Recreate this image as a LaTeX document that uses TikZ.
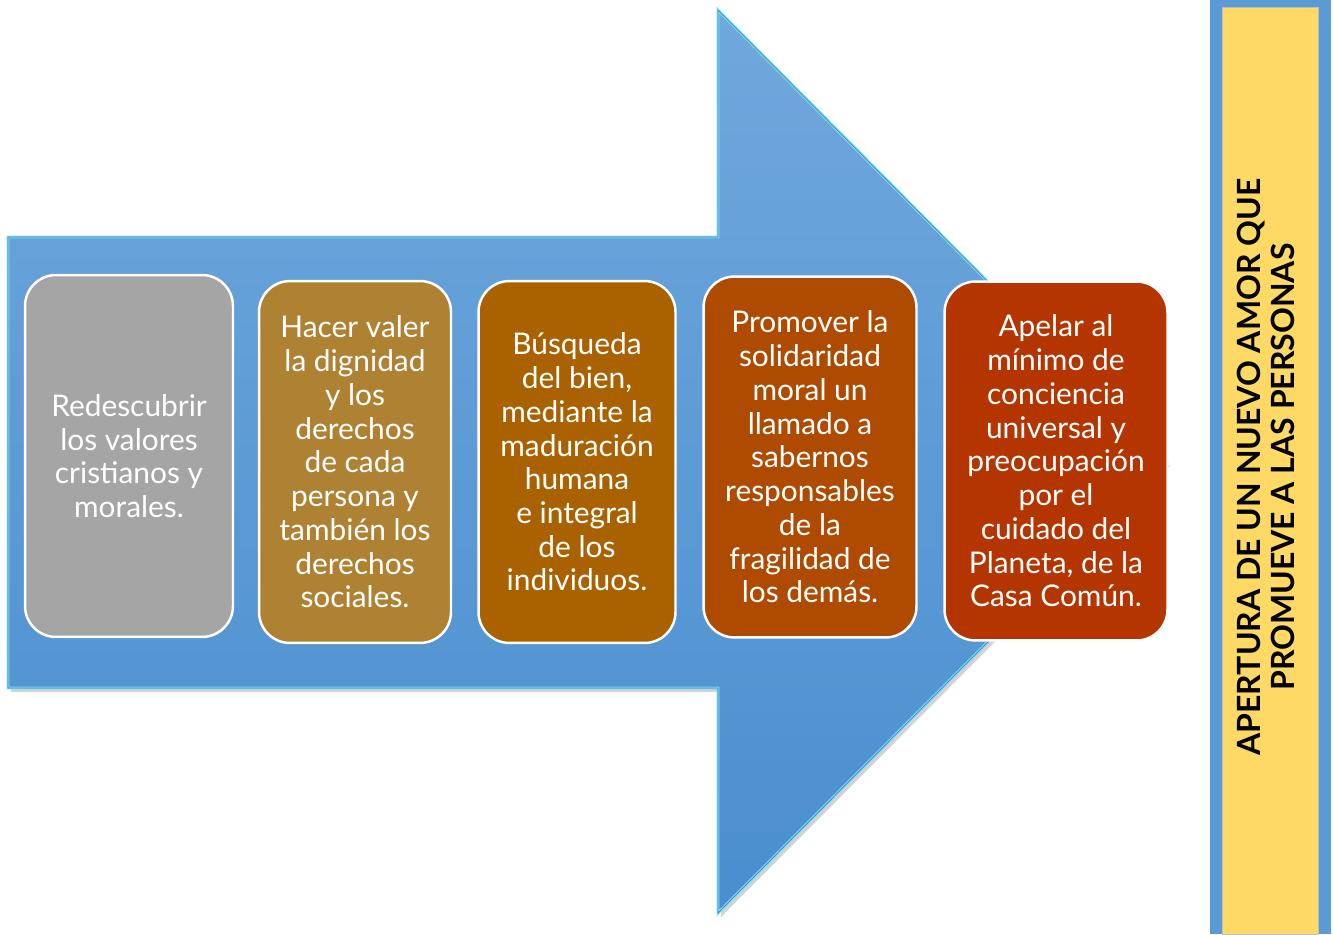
\documentclass[tikz,border=0pt]{standalone}
\usepackage{fontspec}
\setmainfont{Lato}
\usetikzlibrary{shadows, positioning}

\definecolor{arrowtop}{HTML}{70A8DC}
\definecolor{arrowbot}{HTML}{4A8ECF}
\definecolor{bevel}{HTML}{7FDCFF}
\definecolor{bevelline}{HTML}{3C8C9C}
\definecolor{grisbox}{HTML}{A5A5A5}
\definecolor{orobox}{HTML}{AE8232}
\definecolor{ocrebox}{HTML}{AA6200}
\definecolor{tejabox}{HTML}{AE4B00}
\definecolor{rojobox}{HTML}{B43500}
\definecolor{panelblue}{HTML}{5B9BD5}
\definecolor{panelyellow}{HTML}{FFD966}

\begin{document}
\begin{tikzpicture}[x=0.02cm, y=-0.02cm,
		valuebox/.style={draw=white, line width=1.4pt, rounded corners=0.62cm, text=white, align=center,
			minimum height=7.24cm, font=\fontsize{17}{19.2}\selectfont},
		titletext/.style={rotate=90, align=center, font=\fontsize{18.2}{19.2}\selectfont\bfseries}]
		\useasboundingbox (0,0) rectangle (1333,934);

		% big arrow
		\draw[line width=1.6pt, draw=bevel, top color=arrowtop, bottom color=arrowbot,
			drop shadow={opacity=0.35, shadow xshift=0.06cm, shadow yshift=-0.08cm}]
			(8,237) -- (718,237) -- (718,10) -- (1167,462) -- (718,913) -- (718,688) -- (8,688) -- cycle;
		\draw[line width=0.4pt, bevelline] (8,237) -- (718,237) -- (718,10) -- (1167,462) -- (718,913) -- (718,688) -- (8,688) -- cycle;

		% steps
		\node[valuebox, fill=grisbox, minimum width=4.16cm] (valores) at (129,456) {Redescubrir\\los valores\\cristianos y\\morales.};
		\node[valuebox, fill=orobox, minimum width=3.84cm] (dignidad) at (355,462) {Hacer valer\\la dignidad\\y los\\derechos\\de cada\\persona y\\también los\\derechos\\sociales.};
		\node[valuebox, fill=ocrebox, minimum width=3.94cm] (bien) at (577,462) {Búsqueda\\del bien,\\mediante la\\maduración\\humana\\e integral\\de los\\individuos.};
		\node[valuebox, fill=tejabox, minimum width=4.26cm, minimum height=7.22cm] (solidaridad) at (810,457) {Promover la\\solidaridad\\moral un\\llamado a\\sabernos\\responsables\\de la\\fragilidad de\\los demás.};
		\node[valuebox, fill=rojobox, minimum width=4.46cm, minimum height=7.18cm] (planeta) at (1056,461) {Apelar al\\mínimo de\\conciencia\\universal y\\preocupación\\por el\\cuidado del\\Planeta, de la\\Casa Común.};

		% side panel
		\fill[panelblue] (1210,0) rectangle (1331,934);
		\draw[fill=panelyellow, draw=black!25, line width=0.3pt] (1222,7) rectangle (1318,934);
		\node[titletext] (titulo) at (1266,467) {APERTURA DE UN NUEVO AMOR QUE\\PROMUEVE A LAS PERSONAS};
	\end{tikzpicture}
\end{document}
